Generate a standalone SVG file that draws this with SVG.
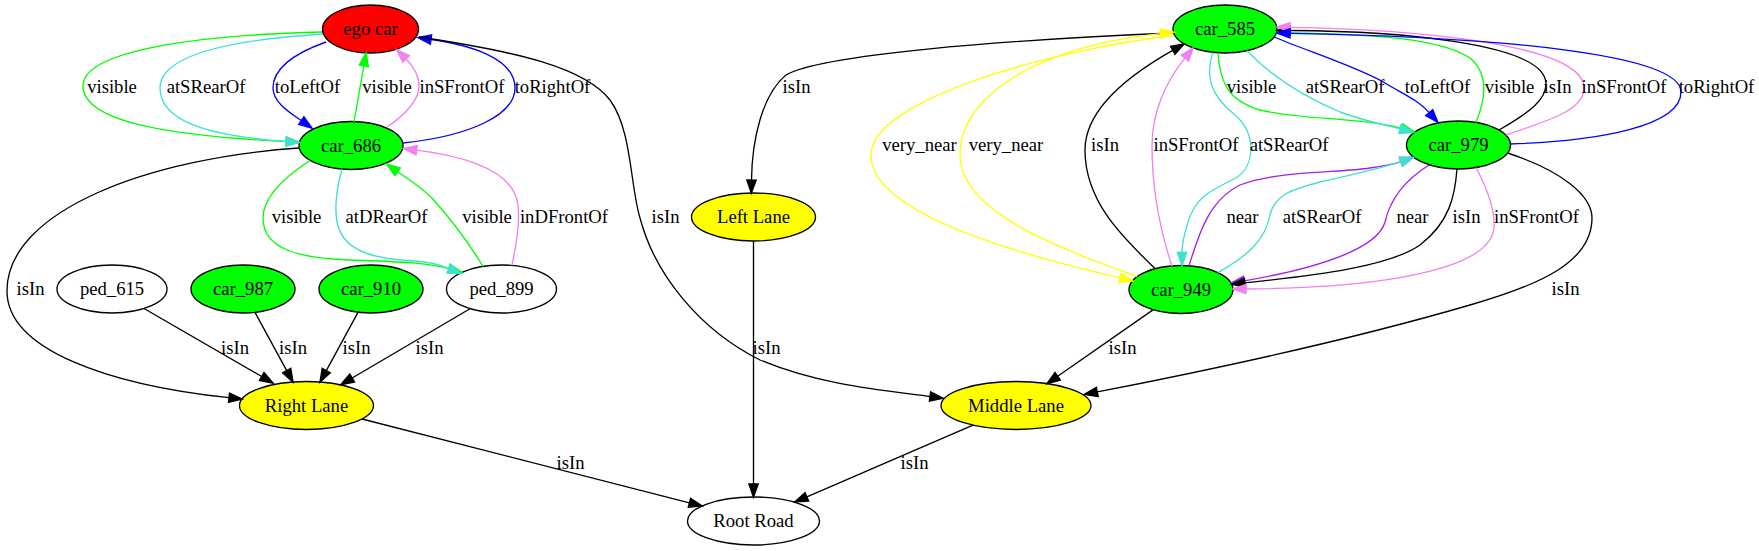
<svg xmlns="http://www.w3.org/2000/svg" width="1759" height="551" viewBox="0 0 1759 551">
<style>
text{font-family:"Liberation Serif","Times New Roman",serif;font-size:18.67px;text-anchor:middle;fill:#000}
.n ellipse{stroke:#000;stroke-width:1.33}
.e path{fill:none;stroke-width:1.33}
.k path{stroke:#000;marker-end:url(#ak)}
.g path{stroke:#00ff00;marker-end:url(#ag)}
.t path{stroke:#40e0d0;marker-end:url(#at)}
.b path{stroke:#0000ff;marker-end:url(#ab)}
.v path{stroke:#ee82ee;marker-end:url(#av)}
.p path{stroke:#a020f0;marker-end:url(#ap)}
.y path{stroke:#ffff00;marker-end:url(#ay)}
</style>
<defs>
<marker id="ak" viewBox="-2 -7 18 14" refX="0" refY="0" markerWidth="18" markerHeight="14" markerUnits="userSpaceOnUse" orient="auto" overflow="visible"><path d="M0,-4.67 L13.33,0 L0,4.67 Z" fill="#000" stroke="#000" stroke-width="1.33"/></marker>
<marker id="ag" viewBox="-2 -7 18 14" refX="0" refY="0" markerWidth="18" markerHeight="14" markerUnits="userSpaceOnUse" orient="auto" overflow="visible"><path d="M0,-4.67 L13.33,0 L0,4.67 Z" fill="#00ff00" stroke="#00ff00" stroke-width="1.33"/></marker>
<marker id="at" viewBox="-2 -7 18 14" refX="0" refY="0" markerWidth="18" markerHeight="14" markerUnits="userSpaceOnUse" orient="auto" overflow="visible"><path d="M0,-4.67 L13.33,0 L0,4.67 Z" fill="#40e0d0" stroke="#40e0d0" stroke-width="1.33"/></marker>
<marker id="ab" viewBox="-2 -7 18 14" refX="0" refY="0" markerWidth="18" markerHeight="14" markerUnits="userSpaceOnUse" orient="auto" overflow="visible"><path d="M0,-4.67 L13.33,0 L0,4.67 Z" fill="#0000ff" stroke="#0000ff" stroke-width="1.33"/></marker>
<marker id="av" viewBox="-2 -7 18 14" refX="0" refY="0" markerWidth="18" markerHeight="14" markerUnits="userSpaceOnUse" orient="auto" overflow="visible"><path d="M0,-4.67 L13.33,0 L0,4.67 Z" fill="#ee82ee" stroke="#ee82ee" stroke-width="1.33"/></marker>
<marker id="ap" viewBox="-2 -7 18 14" refX="0" refY="0" markerWidth="18" markerHeight="14" markerUnits="userSpaceOnUse" orient="auto" overflow="visible"><path d="M0,-4.67 L13.33,0 L0,4.67 Z" fill="#a020f0" stroke="#a020f0" stroke-width="1.33"/></marker>
<marker id="ay" viewBox="-2 -7 18 14" refX="0" refY="0" markerWidth="18" markerHeight="14" markerUnits="userSpaceOnUse" orient="auto" overflow="visible"><path d="M0,-4.67 L13.33,0 L0,4.67 Z" fill="#ffff00" stroke="#ffff00" stroke-width="1.33"/></marker>
</defs>
<rect x="0" y="0" width="1759" height="551" fill="#fff"/>

<g id="nodes">
<g id="ego_car" class="n"><ellipse cx="370.5" cy="29" rx="48" ry="24" fill="#ff0000"/><text x="370.5" y="35">ego car</text></g>
<g id="car_686" class="n"><ellipse cx="351" cy="145.5" rx="52" ry="24" fill="#00ff00"/><text x="351" y="151.5">car_686</text></g>
<g id="ped_615" class="n"><ellipse cx="112" cy="289" rx="55" ry="24" fill="#fff"/><text x="112" y="295">ped_615</text></g>
<g id="car_987" class="n"><ellipse cx="243" cy="289" rx="52" ry="24" fill="#00ff00"/><text x="243" y="295">car_987</text></g>
<g id="car_910" class="n"><ellipse cx="371" cy="289" rx="52" ry="24" fill="#00ff00"/><text x="371" y="295">car_910</text></g>
<g id="ped_899" class="n"><ellipse cx="501.5" cy="289" rx="55" ry="24" fill="#fff"/><text x="501.5" y="295">ped_899</text></g>
<g id="right_lane" class="n"><ellipse cx="306.5" cy="405.5" rx="67" ry="24" fill="#ffff00"/><text x="306.5" y="411.5">Right Lane</text></g>
<g id="root_road" class="n"><ellipse cx="753.5" cy="521" rx="66" ry="24" fill="#fff"/><text x="753.5" y="527">Root Road</text></g>
<g id="left_lane" class="n"><ellipse cx="753.5" cy="217" rx="62" ry="24" fill="#ffff00"/><text x="753.5" y="223">Left Lane</text></g>
<g id="middle_lane" class="n"><ellipse cx="1016" cy="405.5" rx="75" ry="24" fill="#ffff00"/><text x="1016" y="411.5">Middle Lane</text></g>
<g id="car_585" class="n"><ellipse cx="1225" cy="29" rx="52" ry="24" fill="#00ff00"/><text x="1225" y="35">car_585</text></g>
<g id="car_979" class="n"><ellipse cx="1458.5" cy="145" rx="52" ry="24" fill="#00ff00"/><text x="1458.5" y="151">car_979</text></g>
<g id="car_949" class="n"><ellipse cx="1181" cy="289.5" rx="52" ry="24" fill="#00ff00"/><text x="1181" y="295.5">car_949</text></g>
</g>

<g id="edges">
<g class="e g"><path d="M322,32 C200,35 83,50 83,86 C83,122 170,136 286,141.5"/><text x="112" y="92.5">visible</text></g>
<g class="e t"><path d="M323,34 C230,40 160,55 160,88 C160,122 210,136 286,141.5"/><text x="206" y="92.5">atSRearOf</text></g>
<g class="e b"><path d="M326,42 C298,52 273,66 273,88 C273,102 289,112 301.3,120.6"/><text x="307.5" y="92.5">toLeftOf</text></g>
<g class="e g"><path d="M354,122 L363.8,65.8"/><text x="387" y="92.5">visible</text></g>
<g class="e v"><path d="M387,127 C405,115 419,100 419,86 C419,74 413,66 406,59"/><text x="462" y="92.5">inSFrontOf</text></g>
<g class="e b"><path d="M403,143 C470,136 515,115 515,88 C515,58 470,45 431,39.5"/><text x="552.5" y="92.5">toRightOf</text></g>
<g class="e k"><path d="M419,37 C520,52 585,68 610,100 C632,130 630,185 640,218 C655,275 700,330 760,360 C820,385 880,390 930,396.5"/><text x="665.5" y="222.5">isIn</text></g>
<g class="e k"><path d="M299,148 C150,158 8,210 7,290 C6,350 110,385 229,397.7"/><text x="30.5" y="294.5">isIn</text></g>
<g class="e g"><path d="M310,160.5 C280,180 263,200 263,218 C263,250 300,258 350,260 C400,262 425,262 448.8,268.6"/><text x="296.5" y="222.5">visible</text></g>
<g class="e t"><path d="M342,169 C336,190 334,212 338,226 C346,254 380,259 415,261 C430,262 438,264 448.8,268.6"/><text x="386.5" y="222.5">atDRearOf</text></g>
<g class="e g"><path d="M483,266.4 C470,245 450,218 432,198 C420,186 408,179 397.6,171.7"/><text x="487" y="222.5">visible</text></g>
<g class="e v"><path d="M512,265.4 C516,245 520,225 518,205 C514,172 470,157 416.7,150.2"/><text x="564" y="222.5">inDFrontOf</text></g>
<g class="e k"><path d="M144,308.5 L261.7,376.5"/><text x="235" y="353.5">isIn</text></g>
<g class="e k"><path d="M255,312.4 L286.7,370.6"/><text x="293" y="353.5">isIn</text></g>
<g class="e k"><path d="M358,312.4 L326.3,370.6"/><text x="356.5" y="353.5">isIn</text></g>
<g class="e k"><path d="M470,308.7 L352.2,378"/><text x="429.5" y="353.5">isIn</text></g>
<g class="e k"><path d="M362,419 L689.4,502.8"/><text x="570.5" y="468.5">isIn</text></g>
<g class="e k"><path d="M753.5,241 L753.5,484"/><text x="766.5" y="353.5">isIn</text></g>
<g class="e k"><path d="M973,425.2 L806.9,496.8"/><text x="914.5" y="468.5">isIn</text></g>
<g class="e k"><path d="M1173.7,33 C1000,40 820,55 786,75 C762,95 752,140 751.5,180"/><text x="796.5" y="92.5">isIn</text></g>
<g class="e y"><path d="M1173.5,35.5 C1050,50 871,100 871,155 C871,210 1000,250 1119.9,277.9"/><text x="919.5" y="150.5">very_near</text></g>
<g class="e y"><path d="M1137,276.5 C1050,245 960,210 960,155 C960,90 1050,45 1160.6,33.6"/><text x="1006" y="150.5">very_near</text></g>
<g class="e k"><path d="M1155,268.5 C1120,235 1085,200 1085,150 C1085,105 1138,70 1172.7,50.4"/><text x="1105" y="150.5">isIn</text></g>
<g class="e v"><path d="M1172,266.2 C1160,230 1152,190 1152,145 C1152,112 1166,81.5 1184.9,58.1"/><text x="1196" y="150.5">inSFrontOf</text></g>
<g class="e t"><path d="M1213,52.4 C1205,75 1210,95 1235,115 C1256,133 1256,165 1236,178 C1212,190 1196,196 1188,222 C1184,235 1182,245 1182,252.5"/><text x="1289" y="150.5">atSRearOf</text></g>
<g class="e g"><path d="M1218,52.8 C1220,80 1226,100 1260,110 C1300,120 1360,117 1401.5,128.4"/><text x="1251.5" y="92.5">visible</text></g>
<g class="e t"><path d="M1247,50.7 C1270,75 1300,95 1340,112 C1365,121 1385,125 1400,128.9"/><text x="1345" y="92.5">atSRearOf</text></g>
<g class="e b"><path d="M1274,37 C1310,52 1360,68 1385,83 C1405,95 1418,100 1429.2,112.6"/><text x="1437.5" y="92.5">toLeftOf</text></g>
<g class="e g"><path d="M1476,122.5 C1485,100 1490,75 1470,58 C1440,38 1370,34 1290,32.8"/><text x="1509.5" y="92.5">visible</text></g>
<g class="e k"><path d="M1499,130 C1530,112 1546,100 1546,84 C1546,42 1390,31 1290,30.5"/><text x="1557.5" y="92.5">isIn</text></g>
<g class="e v"><path d="M1506,135 C1550,120 1584,110 1584,88 C1584,42 1400,29 1290,27.3"/><text x="1624" y="92.5">inSFrontOf</text></g>
<g class="e b"><path d="M1510,144 C1600,141 1681,126 1681,92 C1681,54 1500,37 1290,33.3"/><text x="1716.5" y="92.5">toRightOf</text></g>
<g class="e p"><path d="M1189,265.8 C1200,230 1210,200 1240,185 C1280,170 1340,173 1370,168 C1385,166 1393,164.6 1400.9,161.7"/><text x="1242.5" y="222.5">near</text></g>
<g class="e t"><path d="M1218,272.6 C1245,257 1265,242 1270,215 C1275,195 1290,190 1320,182 C1350,175 1380,169 1400.9,161.7"/><text x="1322" y="222.5">atSRearOf</text></g>
<g class="e p"><path d="M1429,165 C1405,180 1390,200 1385,222 C1378,248 1320,268 1244.3,280.8"/><text x="1412.5" y="222.5">near</text></g>
<g class="e k"><path d="M1457,169 C1455,195 1450,222 1420,245 C1390,266 1320,275 1244.9,282.8"/><text x="1466.5" y="222.5">isIn</text></g>
<g class="e v"><path d="M1476,167.5 C1488,190 1495,210 1494,228 C1490,270 1380,288 1246,289"/><text x="1536.5" y="222.5">inSFrontOf</text></g>
<g class="e k"><path d="M1507.5,153 C1560,170 1592,195 1592,218 C1592,262 1540,285 1470,305 C1350,340 1200,372 1097.3,391.9"/><text x="1565.5" y="294.5">isIn</text></g>
<g class="e k"><path d="M1153,309.9 L1057.7,376.3"/><text x="1122.5" y="353.5">isIn</text></g>
</g>
</svg>
